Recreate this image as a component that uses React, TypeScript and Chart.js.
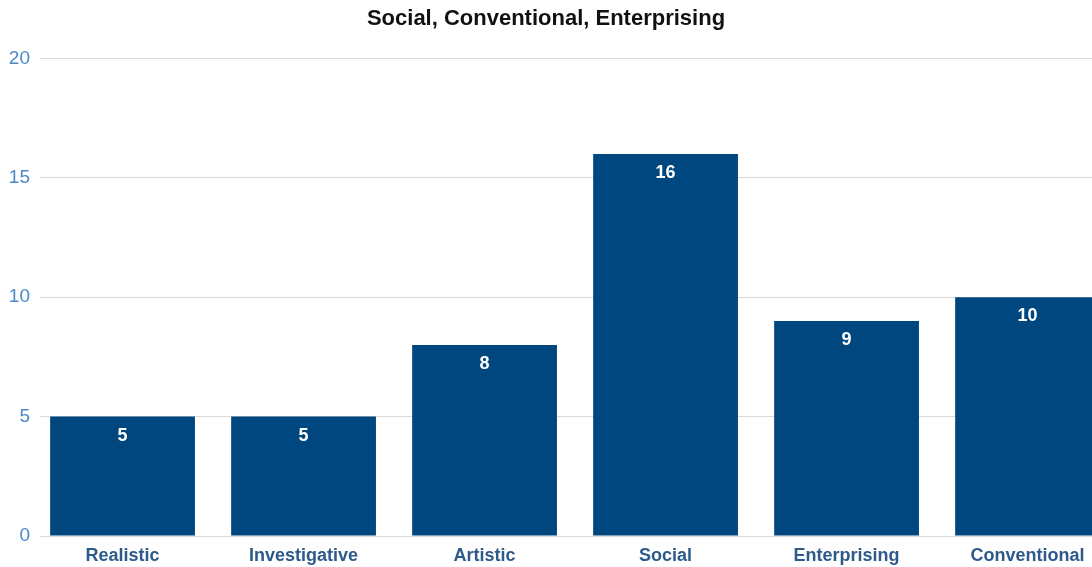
import React, { useEffect, useRef } from "react";
import { Chart, registerables } from "chart.js";

Chart.register(...registerables);

const titleText = "Social, Conventional, Enterprising";
const categories = ["Realistic", "Investigative", "Artistic", "Social", "Enterprising", "Conventional"];
const scores = [5, 5, 8, 16, 9, 10];
const yTicks = [0, 5, 10, 15, 20];

const FONT = "'Liberation Sans', Arial, sans-serif";

const valueLabels = {
  id: "valueLabels",
  afterDatasetsDraw(chart: any) {
    const ctx = chart.ctx;
    const meta = chart.getDatasetMeta(0);
    ctx.save();
    ctx.fillStyle = "#ffffff";
    ctx.font = `bold 18px ${FONT}`;
    ctx.textAlign = "center";
    ctx.textBaseline = "middle";
    meta.data.forEach((bar: any, i: number) => {
      ctx.fillText(String(scores[i]), bar.x, bar.y + 19);
    });
    ctx.restore();
  },
};

export default function App() {
  const ref = useRef<HTMLCanvasElement>(null);
  useEffect(() => {
    if (!ref.current) return;
    const chart = new Chart(ref.current, {
      type: "bar",
      data: {
        datasets: [
          {
            data: scores.map((v, i) => ({ x: i, y: v })),
            backgroundColor: "#00467f",
            borderWidth: 0,
            barPercentage: 0.8,
            categoryPercentage: 1,
          },
        ],
      },
      options: {
        animation: false,
        responsive: true,
        maintainAspectRatio: false,
        layout: { padding: { left: 0, right: 0, top: 0, bottom: 0 } },
        plugins: {
          legend: { display: false },
          tooltip: { enabled: false },
          title: {
            display: true,
            text: titleText,
            color: "#111111",
            font: { family: FONT, size: 22, weight: "bold" },
            padding: { top: 6, bottom: 26 },
          },
        },
        scales: {
          x: {
            type: "linear",
            offset: false,
            min: -0.456,
            max: 5.356,
            grid: { display: false, offset: false },
            border: { display: false },
            afterBuildTicks: (axis: any) => {
              axis.ticks = categories.map((_, i) => ({ value: i }));
            },
            afterFit: (axis: any) => {
              axis.height = 31;
            },
            ticks: {
              autoSkip: false,
              maxRotation: 0,
              padding: 1,
              color: "#2e5a8a",
              font: { family: FONT, size: 18, weight: "bold" },
              callback: (v: any) => categories[v] ?? "",
            },
          },
          y: {
            min: 0,
            max: 20,
            afterBuildTicks: (axis: any) => {
              axis.ticks = yTicks.map((v) => ({ value: v }));
            },
            afterFit: (axis: any) => {
              axis.width = 40;
            },
            grid: { color: "#d9d9d9", lineWidth: 1, drawTicks: false },
            border: { display: false },
            ticks: {
              padding: 10,
              color: "#4a8ac9",
              font: { family: FONT, size: 19 },
            },
          },
        },
      },
      plugins: [valueLabels],
    } as any);
    return () => chart.destroy();
  }, []);
  return (
    <div style={{ position: "absolute", left: 0, top: 0, width: 1092, height: 567, overflow: "hidden", background: "#fff" }}>
      <canvas ref={ref} />
    </div>
  );
}
